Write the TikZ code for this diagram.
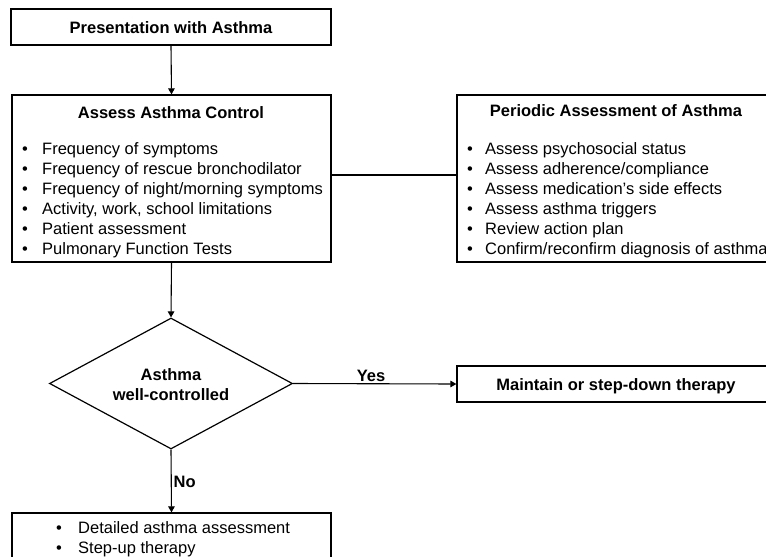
\documentclass[tikz,border=0pt]{standalone}
\usepackage{fontspec}
\setmainfont{Liberation Sans}
\usetikzlibrary{shapes.geometric,arrows.meta}
\begin{document}
\begin{tikzpicture}[x=1pt,y=-1pt,
  box/.style={draw,line width=1.2pt,rectangle,inner sep=0pt},
  lbl/.style={inner sep=0pt,anchor=base,font=\fontsize{16.5}{20}\selectfont\bfseries},
  lst/.style={inner sep=0pt,anchor=base west,font=\fontsize{16.5}{20}\selectfont},
  conn/.style={line width=1.1pt},
  arr/.style={conn,-{Triangle[length=6pt,width=6.5pt]}}]
\useasboundingbox (0,0) rectangle (766,557);
\clip (0,0) rectangle (766,557);
% boxes
\node[box,minimum width=320pt,minimum height=36pt] (pres) at (171,27) {};
\node[box,minimum width=319pt,minimum height=167pt] (assess) at (171.5,178.5) {};
\node[box,minimum width=318pt,minimum height=167pt] (periodic) at (616,178.5) {};
\node[box,minimum width=318pt,minimum height=36pt] (maintain) at (616,384) {};
\node[draw,line width=1.2pt,diamond,shape aspect=1.85,inner sep=0pt,minimum width=243pt,minimum height=131pt] (dec) at (171,383.5) {};
\node[box,minimum width=319pt,minimum height=57pt] (stepup) at (171.5,541.5) {};
% texts
\node[lbl] (presT) at (171,33) {Presentation with Asthma};
\node[lbl] (assT) at (171,118.5) {Assess Asthma Control};
\node[lst] (assL) at (22,154) {\begin{tabular}[t]{@{}p{20pt}@{}l@{}}
• & Frequency of symptoms\\
• & Frequency of rescue bronchodilator\\
• & Frequency of night/morning symptoms\\
• & Activity, work, school limitations\\
• & Patient assessment\\
• & Pulmonary Function Tests
\end{tabular}};
\node[lbl] (perT) at (616,116.5) {Periodic Assessment of Asthma};
\node[lst] (perL) at (467,154) {\begin{tabular}[t]{@{}p{18pt}@{}l@{}}
• & Assess psychosocial status\\
• & Assess adherence/compliance\\
• & Assess medication{\char"0027}s side effects\\
• & Assess asthma triggers\\
• & Review action plan\\
• & Confirm/reconfirm diagnosis of asthma
\end{tabular}};
\node[lbl] (mainT) at (616,390) {Maintain or step-down therapy};
\node[lbl] (d1) at (171,380) {Asthma};
\node[lbl] (d2) at (171,400) {well-controlled};
\node[lbl] (yes) at (371,381) {Yes};
\node[lbl,anchor=base west] (no) at (173.5,487) {No};
\node[lst] (stepL) at (56,533) {\begin{tabular}[t]{@{}p{22pt}@{}l@{}}
• & Detailed asthma assessment\\
• & Step-up therapy
\end{tabular}};
% connectors
\draw[arr] (pres.south) -- (assess.north);
\draw[conn] ([yshift=3.5pt]assess.east) -- ([yshift=3.5pt]periodic.west);
\draw[arr] (assess.south) -- (dec.north);
\draw[arr] (dec.east) -- (maintain.west);
\draw[arr] (dec.south) -- (stepup.north);
\end{tikzpicture}
\end{document}
